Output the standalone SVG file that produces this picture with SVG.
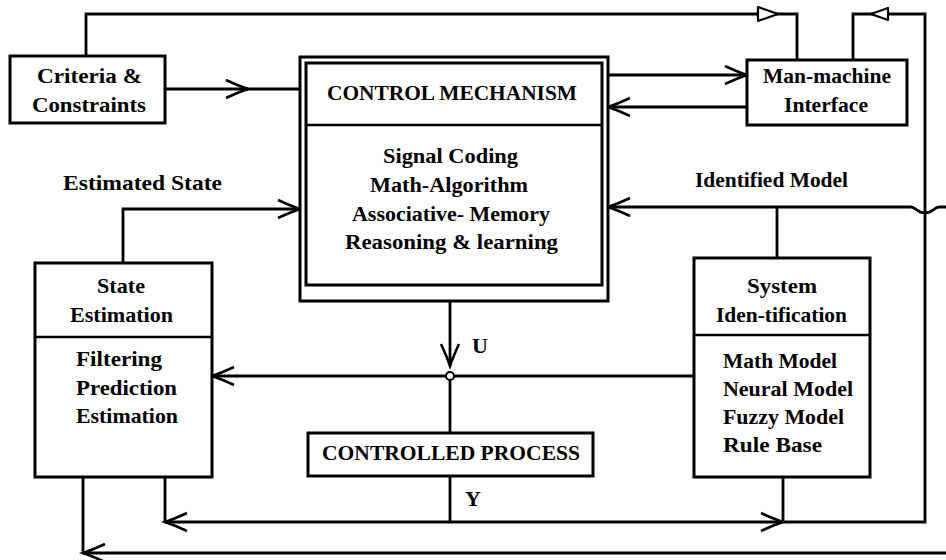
<svg xmlns="http://www.w3.org/2000/svg" width="946" height="560" viewBox="0 0 946 560">
  <style>
    .box { fill: #fff; stroke: #000; stroke-width: 3; }
    .div { fill: none; stroke: #000; stroke-width: 2.5; }
    .wire { fill: none; stroke: #000; stroke-width: 2.8; }
    .arr { marker-end: url(#chev); }
    .tri { fill: #fff; stroke: #000; stroke-width: 2.2; stroke-linejoin: round; }
    text { font-family: "Liberation Serif", "Times New Roman", serif; font-weight: bold; font-size: 22px; fill: #000; }
  </style>
  <defs>
    <marker id="chev" viewBox="-26 -13 28 26" refX="0" refY="0" markerWidth="28" markerHeight="26" markerUnits="userSpaceOnUse" orient="auto" overflow="visible">
      <path d="M-22,-9 Q-9,-3 0,0 Q-9,3 -22,9" fill="none" stroke="#000" stroke-width="2.6"/>
      <path d="M-16,0 H-2" fill="none" stroke="#000" stroke-width="1.2"/>
    </marker>
  </defs>
  <rect width="946" height="560" fill="#fff"/>

  <!-- connectors -->
  <g id="connectors">
    <!-- criteria to man-machine interface, across the top -->
    <path class="wire" d="M86,56 V14 H797 V60"/>
    <polygon class="tri" points="758,7 778,14 758,21"/>
    <!-- output loop round the right-hand side to the interface -->
    <path class="wire" d="M853,60 V14 H925 V522 H783"/>
    <polygon class="tri" points="871,14 888,8 888,20"/>
    <!-- criteria to control mechanism -->
    <path class="wire arr" d="M165,89 H248"/>
    <path class="wire" d="M246,89 H300"/>
    <!-- control mechanism and interface -->
    <path class="wire arr" d="M608,75 H747"/>
    <path class="wire arr" d="M747,107 H608"/>
    <!-- estimated state -->
    <path class="wire arr" d="M123,263 V209 H300"/>
    <!-- identified model, hopping over the right-hand loop -->
    <path class="wire arr" d="M946,207 H939 C934,207 933,213 925,213 C917,213 916,207 911,207 H608"/>
    <path class="wire" d="M777,258 V207"/>
    <!-- control signal U -->
    <path class="wire arr" d="M450,301 V366"/>
    <path class="wire" d="M450,376 V433"/>
    <path class="wire arr" d="M694,376 H212"/>
    <circle cx="450" cy="376" r="4" fill="#fff" stroke="#000" stroke-width="2"/>
    <!-- output Y -->
    <path class="wire" d="M450,476 V522"/>
    <path class="wire arr" d="M450,522 H783"/>
    <path class="wire arr" d="M450,522 H165"/>
    <path class="wire" d="M165,522 V477"/>
    <path class="wire" d="M783,477 V522"/>
    <!-- lower return line -->
    <path class="wire arr" d="M946,553 H83"/>
    <path class="wire" d="M83,553 V477"/>
  </g>

  <g id="criteria">
    <rect class="box" x="10" y="56" width="155" height="67"/>
    <text x="37" y="83" textLength="105" lengthAdjust="spacingAndGlyphs">Criteria &amp;</text>
    <text x="32" y="112" textLength="114" lengthAdjust="spacingAndGlyphs">Constraints</text>
  </g>

  <g id="control-mechanism">
    <rect class="box" x="300" y="57" width="308" height="244"/>
    <rect class="box" x="306" y="63" width="296" height="222"/>
    <line class="div" x1="306" y1="125" x2="602" y2="125"/>
    <text x="327" y="100" textLength="250" lengthAdjust="spacingAndGlyphs">CONTROL MECHANISM</text>
    <text x="383" y="163" textLength="135" lengthAdjust="spacingAndGlyphs">Signal Coding</text>
    <text x="370" y="192" textLength="158" lengthAdjust="spacingAndGlyphs">Math-Algorithm</text>
    <text x="352" y="221" textLength="198" lengthAdjust="spacingAndGlyphs">Associative- Memory</text>
    <text x="345" y="249" textLength="213" lengthAdjust="spacingAndGlyphs">Reasoning &amp; learning</text>
  </g>

  <g id="man-machine">
    <rect class="box" x="747" y="60" width="160" height="65"/>
    <text x="763" y="83" textLength="128" lengthAdjust="spacingAndGlyphs">Man-machine</text>
    <text x="784" y="112" textLength="84" lengthAdjust="spacingAndGlyphs">Interface</text>
  </g>

  <g id="labels">
    <text x="63" y="190" textLength="159" lengthAdjust="spacingAndGlyphs">Estimated State</text>
    <text x="695" y="187" textLength="153" lengthAdjust="spacingAndGlyphs">Identified Model</text>
    <text x="472" y="353">U</text>
    <text x="465" y="506">Y</text>
  </g>

  <g id="state-estimation">
    <rect class="box" x="35" y="263" width="177" height="214"/>
    <line class="div" x1="35" y1="337" x2="212" y2="337"/>
    <text x="97" y="293" textLength="48" lengthAdjust="spacingAndGlyphs">State</text>
    <text x="70" y="322" textLength="103" lengthAdjust="spacingAndGlyphs">Estimation</text>
    <text x="76" y="366" textLength="86" lengthAdjust="spacingAndGlyphs">Filtering</text>
    <text x="76" y="395" textLength="101" lengthAdjust="spacingAndGlyphs">Prediction</text>
    <text x="76" y="423" textLength="102" lengthAdjust="spacingAndGlyphs">Estimation</text>
  </g>

  <g id="system-identification">
    <rect class="box" x="694" y="258" width="176" height="219"/>
    <line class="div" x1="694" y1="335" x2="870" y2="335"/>
    <text x="747" y="293" textLength="70" lengthAdjust="spacingAndGlyphs">System</text>
    <text x="716" y="322" textLength="131" lengthAdjust="spacingAndGlyphs">Iden-tification</text>
    <text x="723" y="368" textLength="114" lengthAdjust="spacingAndGlyphs">Math Model</text>
    <text x="723" y="396" textLength="130" lengthAdjust="spacingAndGlyphs">Neural Model</text>
    <text x="723" y="424" textLength="121" lengthAdjust="spacingAndGlyphs">Fuzzy Model</text>
    <text x="723" y="452" textLength="99" lengthAdjust="spacingAndGlyphs">Rule Base</text>
  </g>

  <g id="controlled-process">
    <rect class="box" x="308" y="433" width="285" height="43"/>
    <text x="322" y="460" textLength="258" lengthAdjust="spacingAndGlyphs">CONTROLLED PROCESS</text>
  </g>
</svg>
